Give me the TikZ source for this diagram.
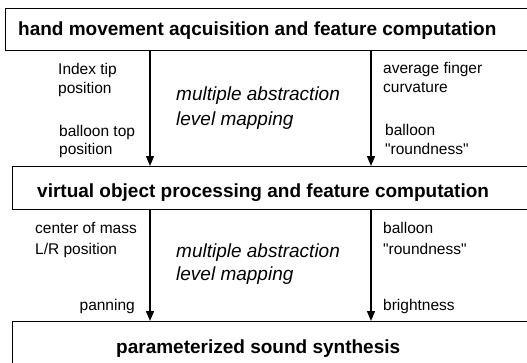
\documentclass[tikz,border=0pt]{standalone}
\usepackage{fontspec}
\setmainfont{Liberation Sans}[Ligatures=TeXOff]
\usetikzlibrary{arrows.meta}
\begin{document}
\begin{tikzpicture}[x=1pt,y=-1pt,
  box/.style={draw, line width=1.4pt, rectangle, inner sep=0, anchor=north west},
  title/.style={anchor=base west, inner sep=0, font=\fontsize{19}{22}\selectfont\bfseries},
  lab/.style={anchor=base west, inner sep=0, font=\fontsize{15.5}{19}\selectfont},
  labr/.style={anchor=base east, inner sep=0, font=\fontsize{15.5}{19}\selectfont},
  ital/.style={anchor=base west, inner sep=0, font=\fontsize{19}{23}\selectfont\itshape},
  flow/.style={line width=1.4pt, -{Triangle[length=10pt,width=8pt]}}
]
\useasboundingbox (0,0) rectangle (527,362);
\clip (0,0) rectangle (527,362);
% boxes
\node[box, minimum width=560pt, minimum height=42pt] (b1) at (5,8) {};
\node[box, minimum width=560pt, minimum height=43pt] (b2) at (12,166) {};
\node[box, minimum width=560pt, minimum height=60pt] (b3) at (12,321) {};
% titles
\node[title] (t1) at (18,35) {hand movement aqcuisition and feature computation};
\node[title] (t2) at (37,197) {virtual object processing and feature computation};
\node[title] (t3) at (116,353) {parameterized sound synthesis};
% arrows
\coordinate (xl) at (150,0);
\coordinate (xr) at (371,0);
\draw[flow] (b1.south -| xl) -- (b2.north -| xl);
\draw[flow] (b1.south -| xr) -- (b2.north -| xr);
\draw[flow] (b2.south -| xl) -- (b3.north -| xl);
\draw[flow] (b2.south -| xr) -- (b3.north -| xr);
% upper labels
\node[lab] (u1) at (58,74) {Index tip};
\node[lab] (u2) at (58,93) {position};
\node[lab] (u3) at (59,136) {balloon top};
\node[lab] (u4) at (59,154) {position};
\node[lab] (u5) at (383,73) {average finger};
\node[lab] (u6) at (383,92) {curvature};
\node[lab] (u7) at (385,135) {balloon};
\node[lab] (u8) at (385,154) {"roundness"};
\node[ital] (m1) at (176,100) {multiple abstraction};
\node[ital] (m2) at (176,125) {level mapping};
% lower labels
\node[lab] (l1) at (35,233) {center of mass};
\node[lab] (l2) at (35,254) {L/R position};
\node[labr] (l3) at (135,310) {panning};
\node[lab] (l4) at (383,233) {balloon};
\node[lab] (l5) at (383,254) {"roundness"};
\node[lab] (l6) at (383,310) {brightness};
\node[ital] (m3) at (176,257) {multiple abstraction};
\node[ital] (m4) at (176,280) {level mapping};
\end{tikzpicture}
\end{document}
